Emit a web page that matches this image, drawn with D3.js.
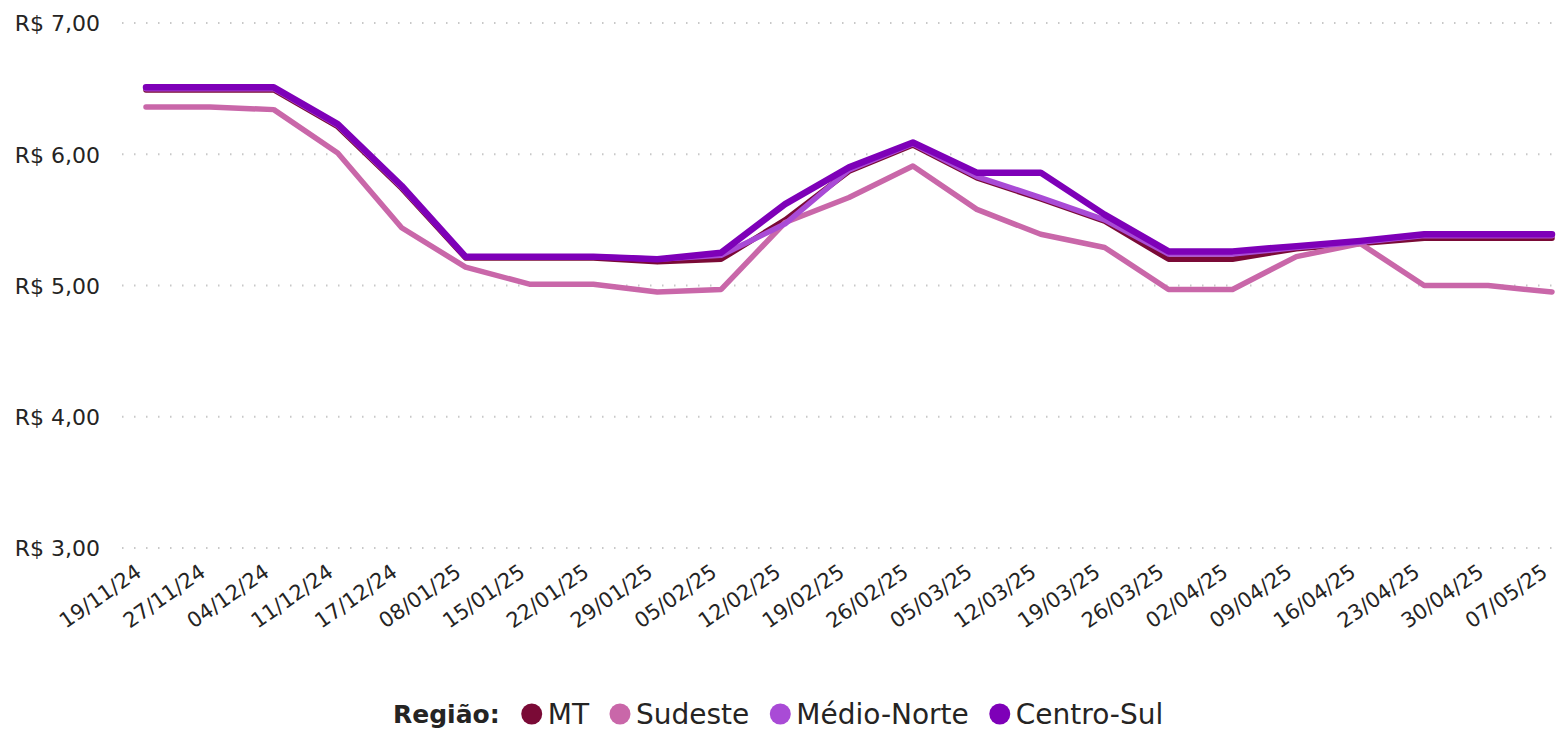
<!DOCTYPE html>
<html>
<head>
<meta charset="utf-8">
<script src="https://cdn.jsdelivr.net/npm/d3@7"></script>
<style>
  html, body { margin: 0; padding: 0; background: #fff; }
  svg { display: block; }
  text { font-family: "DejaVu Sans", "Open Sans", sans-serif; fill: #252423; }
</style>
</head>
<body>
<svg id="chart" width="1562" height="730"></svg>
<script>
const dates = ["19/11/24","27/11/24","04/12/24","11/12/24","17/12/24","08/01/25","15/01/25","22/01/25","29/01/25","05/02/25","12/02/25","19/02/25","26/02/25","05/03/25","12/03/25","19/03/25","26/03/25","02/04/25","09/04/25","16/04/25","23/04/25","30/04/25","07/05/25"];

const seriesNames = ["MT", "Sudeste", "Médio-Norte", "Centro-Sul"];
const mtValues =         [6.49,6.49,6.49,6.21,5.74,5.21,5.21,5.21,5.18,5.20,5.50,5.87,6.07,5.82,5.66,5.49,5.20,5.20,5.28,5.32,5.36,5.36,5.36];
const sudesteValues =    [6.36,6.36,6.34,6.01,5.44,5.14,5.01,5.01,4.95,4.97,5.48,5.67,5.91,5.58,5.39,5.29,4.97,4.97,5.22,5.32,5.00,5.00,4.95];
const medioNorteValues = [6.50,6.50,6.50,6.22,5.75,5.22,5.22,5.22,5.20,5.23,5.47,5.88,6.08,5.83,5.67,5.50,5.24,5.24,5.29,5.33,5.38,5.38,5.38];
const centroSulValues =  [6.51,6.51,6.51,6.23,5.76,5.22,5.22,5.22,5.20,5.25,5.62,5.90,6.09,5.86,5.86,5.54,5.26,5.26,5.30,5.34,5.39,5.39,5.39];
const yTicks = [3, 4, 5, 6, 7];
const legendTitle = "Região:";

const colors = ["#7a0a36", "#c967a9", "#a94bd6", "#7e00b8"];
const allValues = [mtValues, sudesteValues, medioNorteValues, centroSulValues];

const svg = d3.select("#chart");
const x = d3.scalePoint().domain(dates).range([146, 1552]);
const y = d3.scaleLinear().domain([3, 7]).range([548, 23]);

const fmt = v => "R$ " + d3.format(".2f")(v).replace(".", ",");

// gridlines
svg.append("g").selectAll("line").data(yTicks).join("line")
  .attr("x1", 122).attr("x2", 1556)
  .attr("y1", d => y(d)).attr("y2", d => y(d))
  .attr("stroke", "#c8c8c8").attr("stroke-width", 2)
  .attr("stroke-dasharray", "1.5,10.5");

// y axis labels
const yAxis = d3.axisLeft(y).tickValues(yTicks).tickFormat(fmt).tickSize(0).tickPadding(0);
const gy = svg.append("g").attr("transform", "translate(100,0)").call(yAxis);
gy.select(".domain").remove();
gy.selectAll("text").style("font-size", "22px").attr("dy", "0.36em")
  .style("font-family", "'DejaVu Sans', sans-serif").attr("fill", "#252423");

// x axis labels
const xAxis = d3.axisBottom(x).tickSize(0).tickPadding(0);
const gx = svg.append("g").call(xAxis);
gx.select(".domain").remove();
gx.selectAll(".tick").attr("transform", d => `translate(${x(d) - 3},575)`);
gx.selectAll("text")
  .style("font-size", "21px")
  .style("font-family", "'DejaVu Sans', sans-serif")
  .attr("fill", "#252423")
  .attr("text-anchor", "end")
  .attr("x", 0).attr("y", 0).attr("dy", 0)
  .attr("transform", "rotate(-35)");

// lines
const line = d3.line().x((d, i) => x(dates[i])).y(d => y(d)).curve(d3.curveLinear);
svg.append("g").selectAll("path").data(allValues).join("path")
  .attr("d", d => line(d))
  .attr("fill", "none")
  .attr("stroke", (d, i) => colors[i])
  .attr("stroke-width", (d, i) => i === 3 ? 6.5 : 5.5)
  .attr("stroke-linejoin", "round")
  .attr("stroke-linecap", "round");

// legend
const lg = svg.append("g").attr("transform", "translate(0,714)");
const title = lg.append("text").text(legendTitle)
  .attr("x", 393).attr("y", 0).attr("dy", "0.36em")
  .style("font-size", "25px").style("font-weight", "bold");
let cx = 393 + title.node().getComputedTextLength() + 32;
seriesNames.forEach((name, i) => {
  lg.append("circle").attr("cx", cx).attr("cy", 0).attr("r", 10.5).attr("fill", colors[i]);
  const t = lg.append("text").text(name).attr("x", cx + 16).attr("y", 0).attr("dy", "0.36em")
    .style("font-size", "28px");
  cx = cx + 16 + t.node().getComputedTextLength() + 31;
});
</script>
</body>
</html>
